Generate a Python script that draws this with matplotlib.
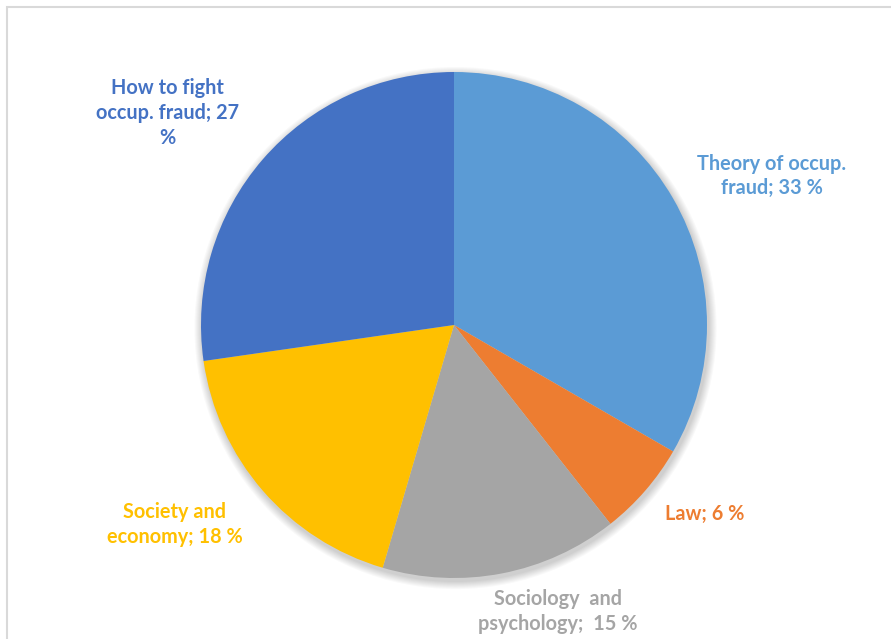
import matplotlib.pyplot as plt
import numpy as np
from matplotlib.patches import Circle, Rectangle

# share of each topic, in percent
topics = ['Theory of occup.\nfraud', 'Law', 'Sociology  and\npsychology',
          'Society and\neconomy', 'How to fight\noccup. fraud']
shares = [33, 6, 15, 18, 27]
colors = ['#5B9BD5', '#ED7D31', '#A5A5A5', '#FFC000', '#4472C4']

# label placement: (angle in degrees, distance in pie radii)
label_pos = [(25.1, 1.388), (-37, 1.242), (-70.1, 1.206), (-144.4, 1.357), (143.5, 1.407)]

W, H = 891, 639
cx, cy, R = 454, 325, 253

fig = plt.figure(figsize=(W / 100, H / 100), dpi=100)
ax = fig.add_axes([0, 0, 1, 1])
ax.axis('off')

# thin grey chart frame, running off the right and bottom edges
ax.add_patch(Rectangle((-(cx - 6.5) / R, -(H + 20 - cy) / R), (W + 40) / R, (H + 20 - 6.5) / R,
                       fill=False, edgecolor='#D9D9D9', lw=1.5, clip_on=False, zorder=0))

# soft shadow under the pie
for i in range(8):
    ax.add_patch(Circle((0.006, -0.012), 1.0 + 0.004 * (i + 1), color='black',
                        alpha=0.025, lw=0, zorder=1))

ax.pie(shares, colors=colors, startangle=90, counterclock=False, radius=1,
       wedgeprops=dict(linewidth=0, zorder=2), normalize=True)
ax.set_xlim(-cx / R, (W - cx) / R)
ax.set_ylim(-(H - cy) / R, cy / R)
ax.set_aspect('auto')

for name, share, col, (ang, dist) in zip(topics, shares, colors, label_pos):
    a = np.deg2rad(ang)
    if name.startswith('How'):
        txt = 'How to fight\noccup. fraud; %d\n%%' % share
    elif name.startswith('Sociology'):
        txt = name + ';  %d %%' % share
    else:
        txt = name + '; %d %%' % share
    ax.text(dist * np.cos(a), dist * np.sin(a), txt, color=col, ha='center',
            va='center', fontsize=14.3, fontweight='bold', family='Lato',
            linespacing=1.3, zorder=5)

fig.savefig('out.png', dpi=100, facecolor='white')
